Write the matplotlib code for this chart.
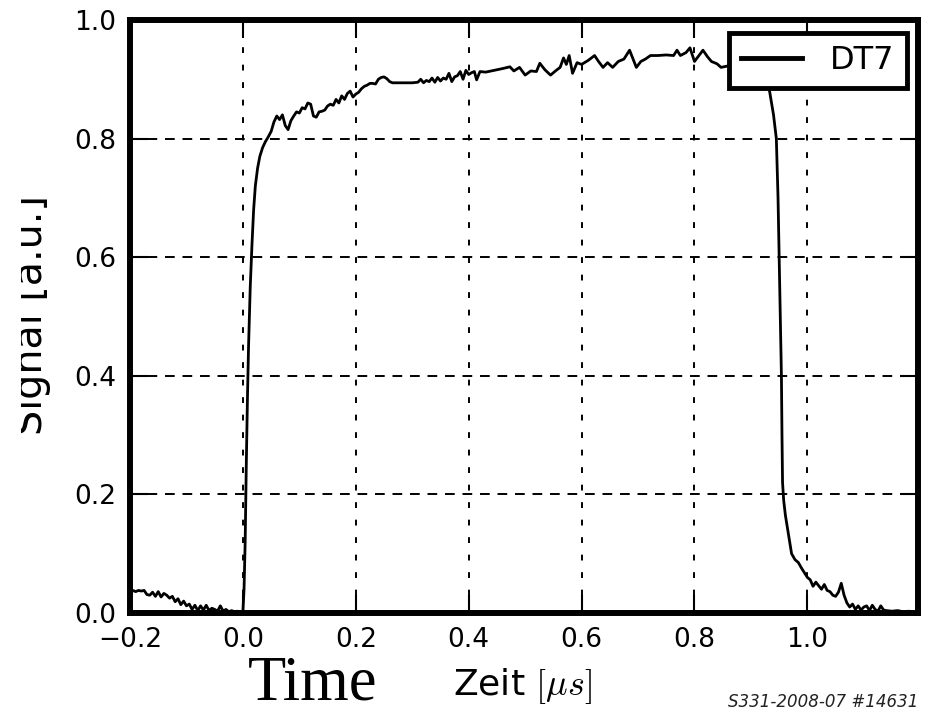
import matplotlib
matplotlib.use("Agg")
import matplotlib.pyplot as plt
from matplotlib.transforms import Bbox, TransformedBbox

plt.rcParams["mathtext.fontset"] = "cm"
plt.rcParams["font.family"] = "DejaVu Sans"

# signal of detector DT7
time_us = [-0.200, -0.195, -0.190, -0.185, -0.180, -0.175, -0.170, -0.165, -0.160, -0.155,
           -0.150, -0.145, -0.140, -0.135, -0.130, -0.125, -0.120, -0.115, -0.110, -0.105,
           -0.100, -0.095, -0.090, -0.085, -0.080, -0.075, -0.070, -0.065, -0.060, -0.055,
           -0.050, -0.045, -0.040, -0.035, -0.030, -0.025, -0.020, -0.015, -0.010, -0.005,
           0.000, 0.002, 0.004, 0.006, 0.008, 0.010, 0.013, 0.016, 0.019, 0.022,
           0.026, 0.030, 0.035, 0.040, 0.045, 0.050, 0.055, 0.060, 0.065, 0.070,
           0.075, 0.080, 0.085, 0.090, 0.095, 0.100, 0.105, 0.110, 0.115, 0.120,
           0.125, 0.130, 0.135, 0.140, 0.145, 0.150, 0.155, 0.160, 0.165, 0.170,
           0.175, 0.180, 0.185, 0.190, 0.195, 0.200, 0.205, 0.210, 0.215, 0.220,
           0.225, 0.230, 0.235, 0.240, 0.245, 0.250, 0.255, 0.260, 0.265, 0.280,
           0.300, 0.310, 0.315, 0.320, 0.325, 0.330, 0.335, 0.340, 0.345, 0.350,
           0.355, 0.360, 0.365, 0.370, 0.375, 0.380, 0.385, 0.390, 0.395, 0.400,
           0.405, 0.410, 0.414, 0.420, 0.430, 0.445, 0.460, 0.473, 0.480, 0.490,
           0.500, 0.510, 0.520, 0.526, 0.535, 0.545, 0.555, 0.562, 0.568, 0.573,
           0.578, 0.584, 0.592, 0.600, 0.612, 0.623, 0.630, 0.638, 0.646, 0.655,
           0.665, 0.675, 0.685, 0.697, 0.705, 0.713, 0.722, 0.735, 0.750, 0.763,
           0.769, 0.775, 0.785, 0.792, 0.800, 0.808, 0.815, 0.823, 0.830, 0.840,
           0.847, 0.857, 0.870, 0.890, 0.910, 0.925, 0.933, 0.940, 0.945, 0.948,
           0.950, 0.952, 0.954, 0.955, 0.956, 0.958, 0.961, 0.966, 0.972, 0.978,
           0.984, 0.990, 0.996, 1.000, 1.005, 1.010, 1.015, 1.020, 1.025, 1.030,
           1.035, 1.040, 1.045, 1.050, 1.055, 1.060, 1.065, 1.070, 1.075, 1.080,
           1.085, 1.090, 1.095, 1.100, 1.105, 1.110, 1.115, 1.120, 1.125, 1.130,
           1.135, 1.140, 1.150, 1.160, 1.170, 1.180, 1.190]
signal = [0.033, 0.038, 0.036, 0.038, 0.037, 0.038, 0.031, 0.030, 0.035, 0.028,
          0.036, 0.027, 0.033, 0.030, 0.025, 0.028, 0.019, 0.024, 0.014, 0.020,
          0.012, 0.015, 0.006, 0.013, 0.004, 0.012, 0.005, 0.013, 0.004, 0.008,
          0.006, 0.003, 0.012, 0.003, 0.006, 0.002, 0.004, 0.002, 0.003, 0.001,
          0.002, 0.040, 0.120, 0.250, 0.360, 0.450, 0.550, 0.620, 0.680, 0.720,
          0.750, 0.770, 0.785, 0.795, 0.803, 0.812, 0.828, 0.838, 0.832, 0.840,
          0.822, 0.815, 0.830, 0.838, 0.845, 0.843, 0.852, 0.850, 0.860, 0.858,
          0.838, 0.836, 0.845, 0.846, 0.848, 0.855, 0.858, 0.856, 0.866, 0.860,
          0.872, 0.866, 0.876, 0.880, 0.870, 0.875, 0.878, 0.884, 0.888, 0.890,
          0.893, 0.893, 0.892, 0.900, 0.903, 0.904, 0.901, 0.896, 0.894, 0.894,
          0.894, 0.895, 0.900, 0.894, 0.898, 0.896, 0.902, 0.895, 0.903, 0.897,
          0.902, 0.900, 0.910, 0.896, 0.904, 0.906, 0.913, 0.900, 0.915, 0.908,
          0.911, 0.913, 0.899, 0.913, 0.912, 0.915, 0.918, 0.921, 0.914, 0.920,
          0.907, 0.914, 0.913, 0.927, 0.916, 0.907, 0.915, 0.920, 0.936, 0.925,
          0.940, 0.910, 0.928, 0.925, 0.932, 0.940, 0.930, 0.920, 0.928, 0.920,
          0.930, 0.934, 0.949, 0.920, 0.930, 0.934, 0.940, 0.940, 0.941, 0.940,
          0.949, 0.940, 0.945, 0.953, 0.930, 0.940, 0.949, 0.938, 0.930, 0.926,
          0.920, 0.922, 0.925, 0.930, 0.920, 0.905, 0.880, 0.840, 0.800, 0.700,
          0.600, 0.500, 0.400, 0.300, 0.220, 0.190, 0.165, 0.135, 0.100, 0.090,
          0.085, 0.075, 0.066, 0.060, 0.056, 0.045, 0.052, 0.046, 0.040, 0.048,
          0.038, 0.036, 0.030, 0.028, 0.035, 0.050, 0.030, 0.017, 0.010, 0.015,
          0.006, 0.012, 0.005, 0.010, 0.012, 0.004, 0.013, 0.006, 0.003, 0.012,
          0.005, 0.004, 0.003, 0.004, 0.002, 0.003, 0.001]

x_ticks = [-0.2, 0.0, 0.2, 0.4, 0.6, 0.8, 1.0]
y_ticks = [0.0, 0.2, 0.4, 0.6, 0.8, 1.0]

fig = plt.figure(figsize=(9.32, 7.15), dpi=100)
ax = fig.add_axes([0.1395, 0.1427, 0.8455, 0.8294])

ax.plot(time_us, signal, color="black", lw=2.0, label="DT7")

ax.set_xlim(-0.2, 1.196)
ax.set_ylim(0.0, 1.0)
ax.set_xticks(x_ticks)
ax.set_yticks(y_ticks)
ax.set_xticklabels(["\u22120.2", "0.0", "0.2", "0.4", "0.6", "0.8", "1.0"])
ax.set_yticklabels(["0.0", "0.2", "0.4", "0.6", "0.8", "1.0"])

ax.tick_params(direction="in", length=13, width=1.5, top=True, right=True,
               labelsize=19, pad=10, color="black")
ax.xaxis.grid(True, color="black", lw=1.4, linestyle=(0, (3, 6)))
ax.yaxis.grid(True, color="black", lw=1.4, linestyle=(0, (5, 4)))
ax.set_axisbelow(False)

for s in ax.spines.values():
    s.set_linewidth(4.3)

leg = ax.legend(loc="upper right", bbox_to_anchor=(0.986, 0.978), borderaxespad=0,
                fontsize=23, fancybox=False, framealpha=1, edgecolor="black",
                borderpad=0.38, handlelength=1.9, handletextpad=0.9)
leg.get_frame().set_linewidth(3.5)
for h in leg.legend_handles:
    h.set_linewidth(3.5)

ax.set_xlabel("Zeit $[\\mu s]$", fontsize=26, va="baseline")
ax.xaxis.set_label_coords(0.4975, -0.138)

# y label, left part cut off like in the scan
ylab = fig.text(42 / 932, 0.5594, "Signal [a.u.]", rotation=90, rotation_mode="anchor",
                ha="center", va="baseline", fontsize=28.5)
ylab.set_clip_box(TransformedBbox(Bbox([[20.5 / 932, 0], [1, 1]]), fig.transFigure))
ylab.set_clip_on(True)

fig.text(0.266, 0.002, "Time", family="Liberation Serif", fontsize=45, va="bottom")
fig.text(0.985, 0.0112, "S331-2008-07 #14631", fontsize=12, style="italic",
         ha="right", va="baseline", color="#222222")

fig.savefig("out.png", dpi=100)
